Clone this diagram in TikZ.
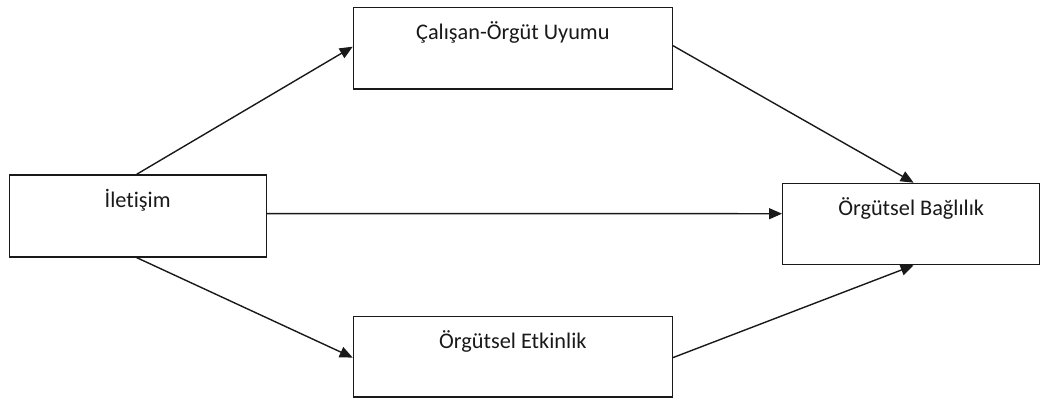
\documentclass[tikz,border=0pt]{standalone}
\usepackage{fontspec}
\setmainfont[Ligatures={NoCommon,NoRare}]{Carlito}
\usetikzlibrary{arrows.meta}
\begin{document}
\begin{tikzpicture}[x=1pt,y=-1pt,
  box/.style={draw=black!90, line width=1.3pt, fill=white, inner sep=0pt,
    anchor=north west},
  lbl/.style={anchor=base, yshift=-32.7pt, font=\fontsize{22.3}{26}\selectfont, text=black!90},
  link/.style={draw=black!90, line width=1.4pt, -{Triangle[length=13pt,width=11pt]}}]
  \useasboundingbox (0,0) rectangle (1046,399);
  % boxes
  \node[box, minimum width=257pt, minimum height=82pt,
        label={[lbl]north:İletişim}] (il) at (8.5,174.3) {};
  \node[box, minimum width=319pt, minimum height=81.5pt,
        label={[lbl]north:Çalışan-Örgüt Uyumu}] (cu) at (352.7,6.8) {};
  \node[box, minimum width=319pt, minimum height=80.5pt,
        label={[lbl]north:Örgütsel Etkinlik}] (oe) at (352.7,315.7) {};
  \node[box, minimum width=257pt, minimum height=81.3pt,
        label={[lbl]north:Örgütsel Bağlılık}] (ob) at (782,182.7) {};
  % connectors
  \draw[link] ([xshift=-1pt]il.north) -- ([yshift=1.5pt]cu.west);
  \draw[link] ([xshift=-1pt]il.south) -- ([yshift=-1pt]oe.west);
  \draw[link] ([yshift=2.3pt]il.east) -- ([yshift=10.3pt]ob.west);
  \draw[link] ([yshift=2.5pt]cu.east) -- ([xshift=2.5pt]ob.north);
  \draw[link] ([yshift=-1pt]oe.east) -- ([xshift=2.5pt]ob.south);
\end{tikzpicture}
\end{document}
